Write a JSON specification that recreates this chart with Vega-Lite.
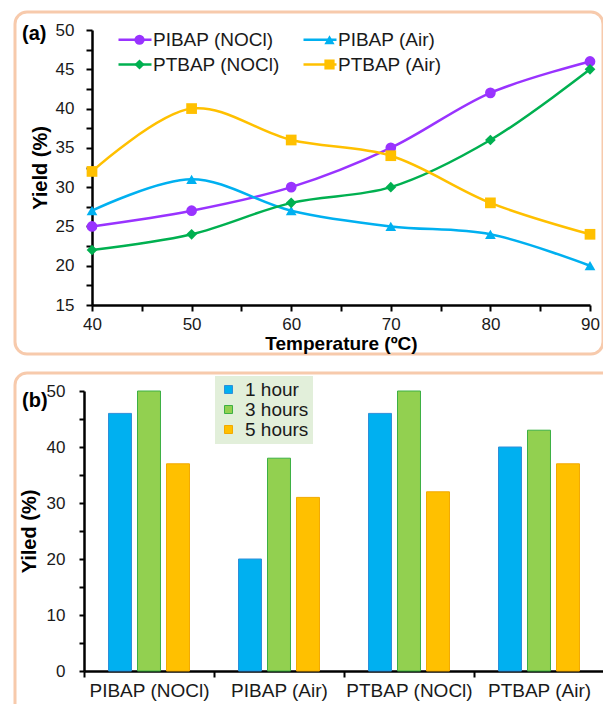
{
  "$schema": "https://vega.github.io/schema/vega-lite/v6.json",
  "padding": {"left": 13, "top": 10, "right": 0, "bottom": 0},
  "spacing": 15,
  "resolve": {
    "scale": {"fill": "independent", "stroke": "independent", "shape": "independent", "x": "independent", "y": "independent"},
    "legend": {"fill": "independent", "stroke": "independent", "shape": "independent"}
  },
  "config": {
    "font": "Liberation Sans",
    "view": {"stroke": "#f7caac", "strokeWidth": 3, "cornerRadius": 12, "fill": "white"},
    "axis": {
      "grid": false,
      "domainColor": "black",
      "domainWidth": 2.5,
      "tickColor": "black",
      "tickWidth": 2,
      "labelColor": "#1a1a1a",
      "labelFont": "Liberation Sans",
      "titleFont": "Liberation Sans",
      "titleColor": "black",
      "titleFontWeight": "bold",
      "labelFlush": false,
      "labelOverlap": false
    },
    "legend": {"labelFont": "Liberation Sans", "labelColor": "#1a1a1a"}
  },
  "datasets": {
    "lines": [
      {"series": "PIBAP (NOCl)", "temp": 40, "yield": 25},
      {"series": "PIBAP (NOCl)", "temp": 50, "yield": 27},
      {"series": "PIBAP (NOCl)", "temp": 60, "yield": 30},
      {"series": "PIBAP (NOCl)", "temp": 70, "yield": 35},
      {"series": "PIBAP (NOCl)", "temp": 80, "yield": 42},
      {"series": "PIBAP (NOCl)", "temp": 90, "yield": 46},
      {"series": "PIBAP (Air)", "temp": 40, "yield": 27},
      {"series": "PIBAP (Air)", "temp": 50, "yield": 31},
      {"series": "PIBAP (Air)", "temp": 60, "yield": 27},
      {"series": "PIBAP (Air)", "temp": 70, "yield": 25},
      {"series": "PIBAP (Air)", "temp": 80, "yield": 24},
      {"series": "PIBAP (Air)", "temp": 90, "yield": 20},
      {"series": "PTBAP (NOCl)", "temp": 40, "yield": 22},
      {"series": "PTBAP (NOCl)", "temp": 50, "yield": 24},
      {"series": "PTBAP (NOCl)", "temp": 60, "yield": 28},
      {"series": "PTBAP (NOCl)", "temp": 70, "yield": 30},
      {"series": "PTBAP (NOCl)", "temp": 80, "yield": 36},
      {"series": "PTBAP (NOCl)", "temp": 90, "yield": 45},
      {"series": "PTBAP (Air)", "temp": 40, "yield": 32},
      {"series": "PTBAP (Air)", "temp": 50, "yield": 40},
      {"series": "PTBAP (Air)", "temp": 60, "yield": 36},
      {"series": "PTBAP (Air)", "temp": 70, "yield": 34},
      {"series": "PTBAP (Air)", "temp": 80, "yield": 28},
      {"series": "PTBAP (Air)", "temp": 90, "yield": 24}
    ],
    "bars": [
      {"sample": "PIBAP (NOCl)", "hours": "1 hour", "yield": 46},
      {"sample": "PIBAP (NOCl)", "hours": "3 hours", "yield": 50},
      {"sample": "PIBAP (NOCl)", "hours": "5 hours", "yield": 37},
      {"sample": "PIBAP (Air)", "hours": "1 hour", "yield": 20},
      {"sample": "PIBAP (Air)", "hours": "3 hours", "yield": 38},
      {"sample": "PIBAP (Air)", "hours": "5 hours", "yield": 31},
      {"sample": "PTBAP (NOCl)", "hours": "1 hour", "yield": 46},
      {"sample": "PTBAP (NOCl)", "hours": "3 hours", "yield": 50},
      {"sample": "PTBAP (NOCl)", "hours": "5 hours", "yield": 32},
      {"sample": "PTBAP (Air)", "hours": "1 hour", "yield": 40},
      {"sample": "PTBAP (Air)", "hours": "3 hours", "yield": 43},
      {"sample": "PTBAP (Air)", "hours": "5 hours", "yield": 37}
    ]
  },
  "vconcat": [
    {
      "width": 588,
      "height": 342,
      "title": {"text": "(a)", "anchor": "start", "frame": "group", "orient": "top", "offset": -32, "dx": 7, "fontSize": 20, "fontWeight": "bold", "font": "Liberation Sans", "color": "black"},
      "data": {"name": "lines"},
      "encoding": {
        "x": {
          "field": "temp", "type": "quantitative",
          "scale": {"domain": [40, 90], "range": [77, 575], "nice": false, "zero": false},
          "axis": {
            "offset": -49,
            "values": [40, 45, 50, 55, 60, 65, 70, 75, 80, 85, 90],
            "labelExpr": "datum.value % 10 === 0 ? datum.label : ''",
            "tickSize": 6, "labelPadding": 5, "labelFontSize": 17,
            "title": "Temperature (ºC)", "titleFontSize": 19, "titlePadding": 2
          }
        },
        "y": {
          "field": "yield", "type": "quantitative",
          "scale": {"domain": [15, 50], "range": [293, 18], "nice": false, "zero": false},
          "axis": {
            "offset": -77,
            "values": [15, 17.5, 20, 22.5, 25, 27.5, 30, 32.5, 35, 37.5, 40, 42.5, 45, 47.5, 50],
            "labelExpr": "datum.value % 5 === 0 ? datum.label : ''",
            "tickSize": 6, "labelPadding": 12, "labelFontSize": 17,
            "title": "Yield (%)", "titleFontSize": 20, "titlePadding": 5
          }
        }
      },
      "layer": [
        {
          "mark": {"type": "line", "interpolate": "catmull-rom", "strokeWidth": 2.5},
          "encoding": {
            "stroke": {
              "field": "series", "type": "nominal",
              "sort": ["PIBAP (NOCl)", "PTBAP (NOCl)", "PIBAP (Air)", "PTBAP (Air)"],
              "scale": {"range": ["#9933ff", "#00b050", "#00b0f0", "#ffc000"]},
              "legend": {"orient": "none", "legendX": 102, "legendY": 18, "columns": 2, "columnPadding": 22, "rowPadding": 5, "clipHeight": 19, "padding": 0, "title": null, "symbolType": "stroke", "symbolSize": 1089, "symbolStrokeWidth": 2.5, "labelFontSize": 19, "labelOffset": 0}
            }
          }
        },
        {
          "mark": {"type": "point", "filled": true, "opacity": 1, "size": 115, "strokeWidth": 0},
          "encoding": {
            "fill": {
              "field": "series", "type": "nominal",
              "scale": {"domain": ["PIBAP (NOCl)", "PTBAP (NOCl)", "PIBAP (Air)", "PTBAP (Air)"], "range": ["#9933ff", "#00b050", "#00b0f0", "#ffc000"]},
              "legend": {"orient": "none", "legendX": 115, "legendY": 18, "columns": 2, "columnPadding": 171, "rowPadding": 5, "clipHeight": 19, "padding": 0, "title": null, "symbolSize": 105, "symbolStrokeWidth": 0, "symbolOpacity": 1, "labelFontSize": 19, "labelOffset": 0, "labelExpr": "''"}
            },
            "shape": {
              "field": "series", "type": "nominal",
              "scale": {"domain": ["PIBAP (NOCl)", "PTBAP (NOCl)", "PIBAP (Air)", "PTBAP (Air)"], "range": ["circle", "diamond", "triangle-up", "square"]},
              "legend": {"orient": "none", "legendX": 115, "legendY": 18, "columns": 2, "columnPadding": 171, "rowPadding": 5, "clipHeight": 19, "padding": 0, "title": null, "symbolSize": 105, "symbolStrokeWidth": 0, "symbolOpacity": 1, "labelFontSize": 19, "labelOffset": 0, "labelExpr": "''"}
            }
          }
        }
      ]
    },
    {
      "width": 600,
      "height": 345,
      "title": {"text": "(b)", "anchor": "start", "frame": "group", "orient": "top", "offset": -38, "dx": 7, "fontSize": 20, "fontWeight": "bold", "font": "Liberation Sans", "color": "black"},
      "data": {"name": "bars"},
      "mark": {"type": "bar", "strokeWidth": 1},
      "encoding": {
        "x": {
          "field": "sample", "type": "nominal",
          "sort": ["PIBAP (NOCl)", "PIBAP (Air)", "PTBAP (NOCl)", "PTBAP (Air)"],
          "scale": {"range": [69, 589], "paddingInner": 0, "paddingOuter": 0},
          "axis": {"offset": -47, "tickBand": "extent", "tickSize": 6, "labelPadding": 4, "labelFontSize": 19, "labelAngle": 0, "title": null}
        },
        "xOffset": {
          "field": "hours", "type": "nominal",
          "scale": {"paddingInner": 0.207, "paddingOuter": 0.845}
        },
        "y": {
          "field": "yield", "type": "quantitative",
          "scale": {"domain": [0, 50], "range": [298, 18], "nice": false},
          "axis": {
            "offset": -69,
            "values": [0, 5, 10, 15, 20, 25, 30, 35, 40, 45, 50],
            "labelExpr": "datum.value % 10 === 0 ? datum.label : ''",
            "tickSize": 5, "labelPadding": 14, "labelFontSize": 17,
            "title": "Yiled (%)", "titleFontSize": 20, "titlePadding": 7
          }
        },
        "fill": {
          "field": "hours", "type": "nominal",
          "scale": {"range": ["#00b0f0", "#92d050", "#ffc000"]},
          "legend": {"orient": "none", "legendX": 200, "legendY": 3, "padding": 4, "fillColor": "#e2efda", "title": null, "symbolType": "square", "symbolSize": 64, "symbolStrokeWidth": 1, "labelFontSize": 19, "labelOffset": 7, "rowPadding": 0, "clipHeight": 19}
        },
        "stroke": {
          "field": "hours", "type": "nominal",
          "scale": {"range": ["#2f8fd8", "#3cb043", "#f2a900"]},
          "legend": {"orient": "none", "legendX": 200, "legendY": 3, "padding": 4, "fillColor": "#e2efda", "title": null, "symbolType": "square", "symbolSize": 64, "symbolStrokeWidth": 1, "labelFontSize": 19, "labelOffset": 7, "rowPadding": 0, "clipHeight": 19}
        }
      }
    }
  ]
}
